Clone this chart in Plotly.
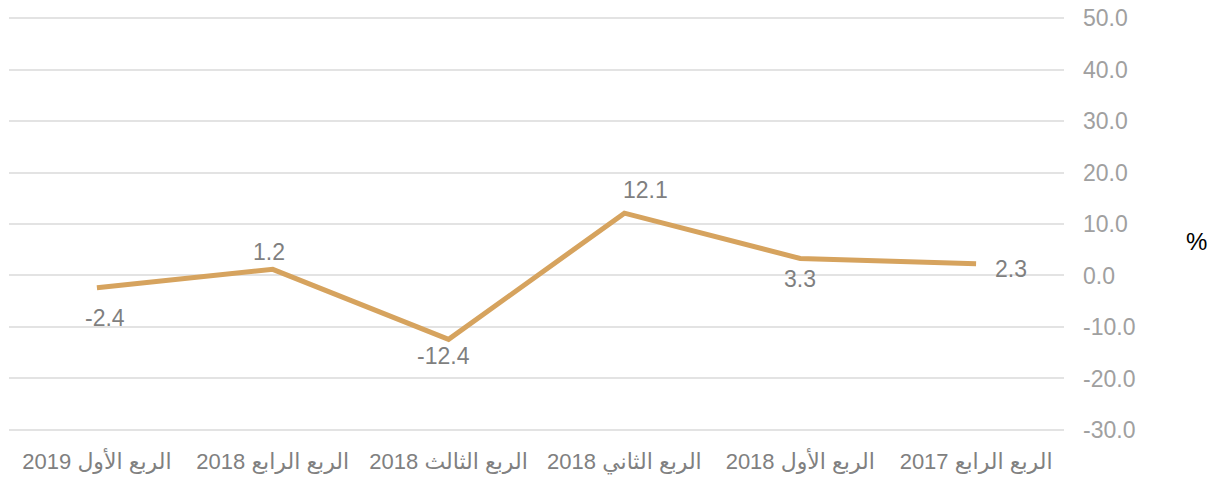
import plotly.graph_objects as go

categories = [
    "الربع الرابع 2017",
    "الربع الأول 2018",
    "الربع الثاني 2018",
    "الربع الثالث 2018",
    "الربع الرابع 2018",
    "الربع الأول 2019",
]
values = [2.3, 3.3, 12.1, -12.4, 1.2, -2.4]
y_ticks = [-30, -20, -10, 0, 10, 20, 30, 40, 50]

# RTL embedding so the year shows on the left like the original
tick_text = ["\u202b" + c + "\u202c" for c in categories]

line_color = "#D6A35E"
label_color = "#7F7F7F"

fig = go.Figure()
fig.add_trace(go.Scatter(
    x=categories, y=values, mode="lines",
    line=dict(color=line_color, width=5),
    hoverinfo="skip", showlegend=False,
))

# label placement (style): x shift, y shift in px
label_shifts = [(35, -5), (0, -20), (21, 23), (-5, -17), (-4, 17), (8, -30)]
for c, v, (dx, dy) in zip(categories, values, label_shifts):
    fig.add_annotation(
        x=c, y=v, text=f"{v:.1f}", showarrow=False,
        xshift=dx, yshift=dy,
        font=dict(family="Liberation Sans, Arial, sans-serif", size=23, color=label_color),
    )

fig.add_annotation(
    xref="paper", yref="paper", x=1.126, y=0.457, text="%",
    showarrow=False, xanchor="center", yanchor="middle",
    font=dict(family="Liberation Sans, Arial, sans-serif", size=24, color="#000000"),
)

fig.update_layout(
    width=1224, height=477,
    margin=dict(l=9, r=160, t=16, b=45),
    paper_bgcolor="white", plot_bgcolor="white",
    xaxis=dict(
        type="category", range=[5.5, -0.5], automargin=False,
        categoryorder="array", categoryarray=categories,
        tickmode="array", tickvals=categories, ticktext=tick_text,
        showgrid=False, zeroline=False, showline=False, ticks="",
        tickfont=dict(family="Liberation Sans, DejaVu Sans, sans-serif", size=22, color="#808080"),
        ticklabelstandoff=14, ticklabeloverflow="allow",
    ),
    yaxis=dict(
        side="right", range=[-30.4, 50.4], automargin=False,
        tickmode="array", tickvals=y_ticks,
        ticktext=[f"{t:.1f}" for t in y_ticks],
        showgrid=True, gridcolor="#E3E3E3", gridwidth=1.5,
        zeroline=True, zerolinecolor="#E3E3E3", zerolinewidth=1.5,
        showline=False, ticks="",
        tickfont=dict(family="Liberation Sans, Arial, sans-serif", size=23, color="#A0A0A0"),
        ticklabelstandoff=18, ticklabeloverflow="allow",
    ),
)

fig.write_html(
    "out.html",
    config={"displayModeBar": False},
    post_script="document.body.style.margin='0';document.body.style.overflow='hidden';",
)
